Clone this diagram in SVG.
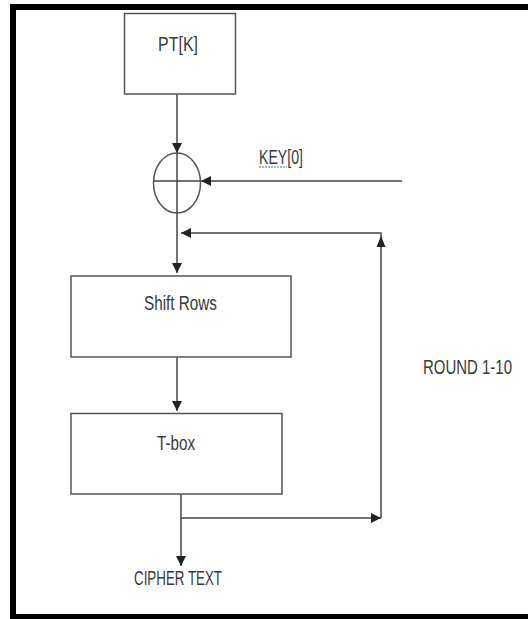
<svg xmlns="http://www.w3.org/2000/svg" width="528" height="619" viewBox="0 0 528 619">
  <defs>
    <marker id="arr" viewBox="0 0 10 10" refX="10" refY="5" markerWidth="10" markerHeight="10" markerUnits="userSpaceOnUse" orient="auto">
      <path d="M0,0 L10,5 L0,10 Z" fill="#222"/>
    </marker>
    <style>
      .box { fill: #fff; stroke: #555; stroke-width: 1.5; }
      .ln { fill: none; stroke: #444; stroke-width: 1.5; }
      .txt { font-family: "Liberation Sans", Arial, sans-serif; font-size: 20px; fill: #3a3a3a; text-anchor: start; }
    </style>
  </defs>
  <rect x="0" y="0" width="528" height="619" fill="#fff"/>
  <path d="M528,7 L13,7 L13,617 L528,617" fill="none" stroke="#000" stroke-width="6"/>

  <g id="connectors">
    <line class="ln" x1="177" y1="94" x2="177" y2="153" marker-end="url(#arr)"/>
    <line class="ln" x1="402" y1="181" x2="201" y2="181" marker-end="url(#arr)"/>
    <line class="ln" x1="177" y1="213" x2="177" y2="273" marker-end="url(#arr)"/>
    <path class="ln" d="M381,518 L381,233 L181,233" marker-end="url(#arr)"/>
    <path d="M376.5,247 L381,236 L385.5,247 Z" fill="#222"/>
    <line class="ln" x1="177" y1="357" x2="177" y2="411" marker-end="url(#arr)"/>
    <line class="ln" x1="181" y1="494" x2="181" y2="566" marker-end="url(#arr)"/>
    <line class="ln" x1="181" y1="518" x2="381" y2="518" marker-end="url(#arr)"/>
  </g>

  <g id="pt">
    <rect class="box" x="124.5" y="13.5" width="111" height="80.5"/>
    <text class="txt" x="158" y="51" textLength="40" lengthAdjust="spacingAndGlyphs">PT[K]</text>
  </g>

  <g id="xor">
    <ellipse cx="177" cy="183" rx="23.5" ry="30" fill="#fff" stroke="#555" stroke-width="1.5"/>
    <line class="ln" x1="177" y1="153" x2="177" y2="213"/>
    <line class="ln" x1="153.5" y1="181" x2="200.5" y2="181"/>
  </g>

  <g id="key">
    <text class="txt" x="259" y="164" textLength="44" lengthAdjust="spacingAndGlyphs">KEY[0]</text>
    <line x1="259" y1="167" x2="287" y2="167" stroke="#4a6fd8" stroke-width="1.2" stroke-dasharray="2,1"/>
  </g>

  <g id="shiftrows">
    <rect class="box" x="71" y="276" width="220" height="81"/>
    <text class="txt" x="144" y="310" textLength="73" lengthAdjust="spacingAndGlyphs">Shift Rows</text>
  </g>

  <g id="tbox">
    <rect class="box" x="71" y="413.5" width="211" height="80.5"/>
    <text class="txt" x="157" y="450" textLength="38" lengthAdjust="spacingAndGlyphs">T-box</text>
  </g>

  <g id="round">
    <text class="txt" x="423" y="374" textLength="89" lengthAdjust="spacingAndGlyphs">ROUND 1-10</text>
  </g>

  <g id="cipher">
    <text class="txt" x="134" y="585" textLength="88" lengthAdjust="spacingAndGlyphs">CIPHER TEXT</text>
  </g>
</svg>
